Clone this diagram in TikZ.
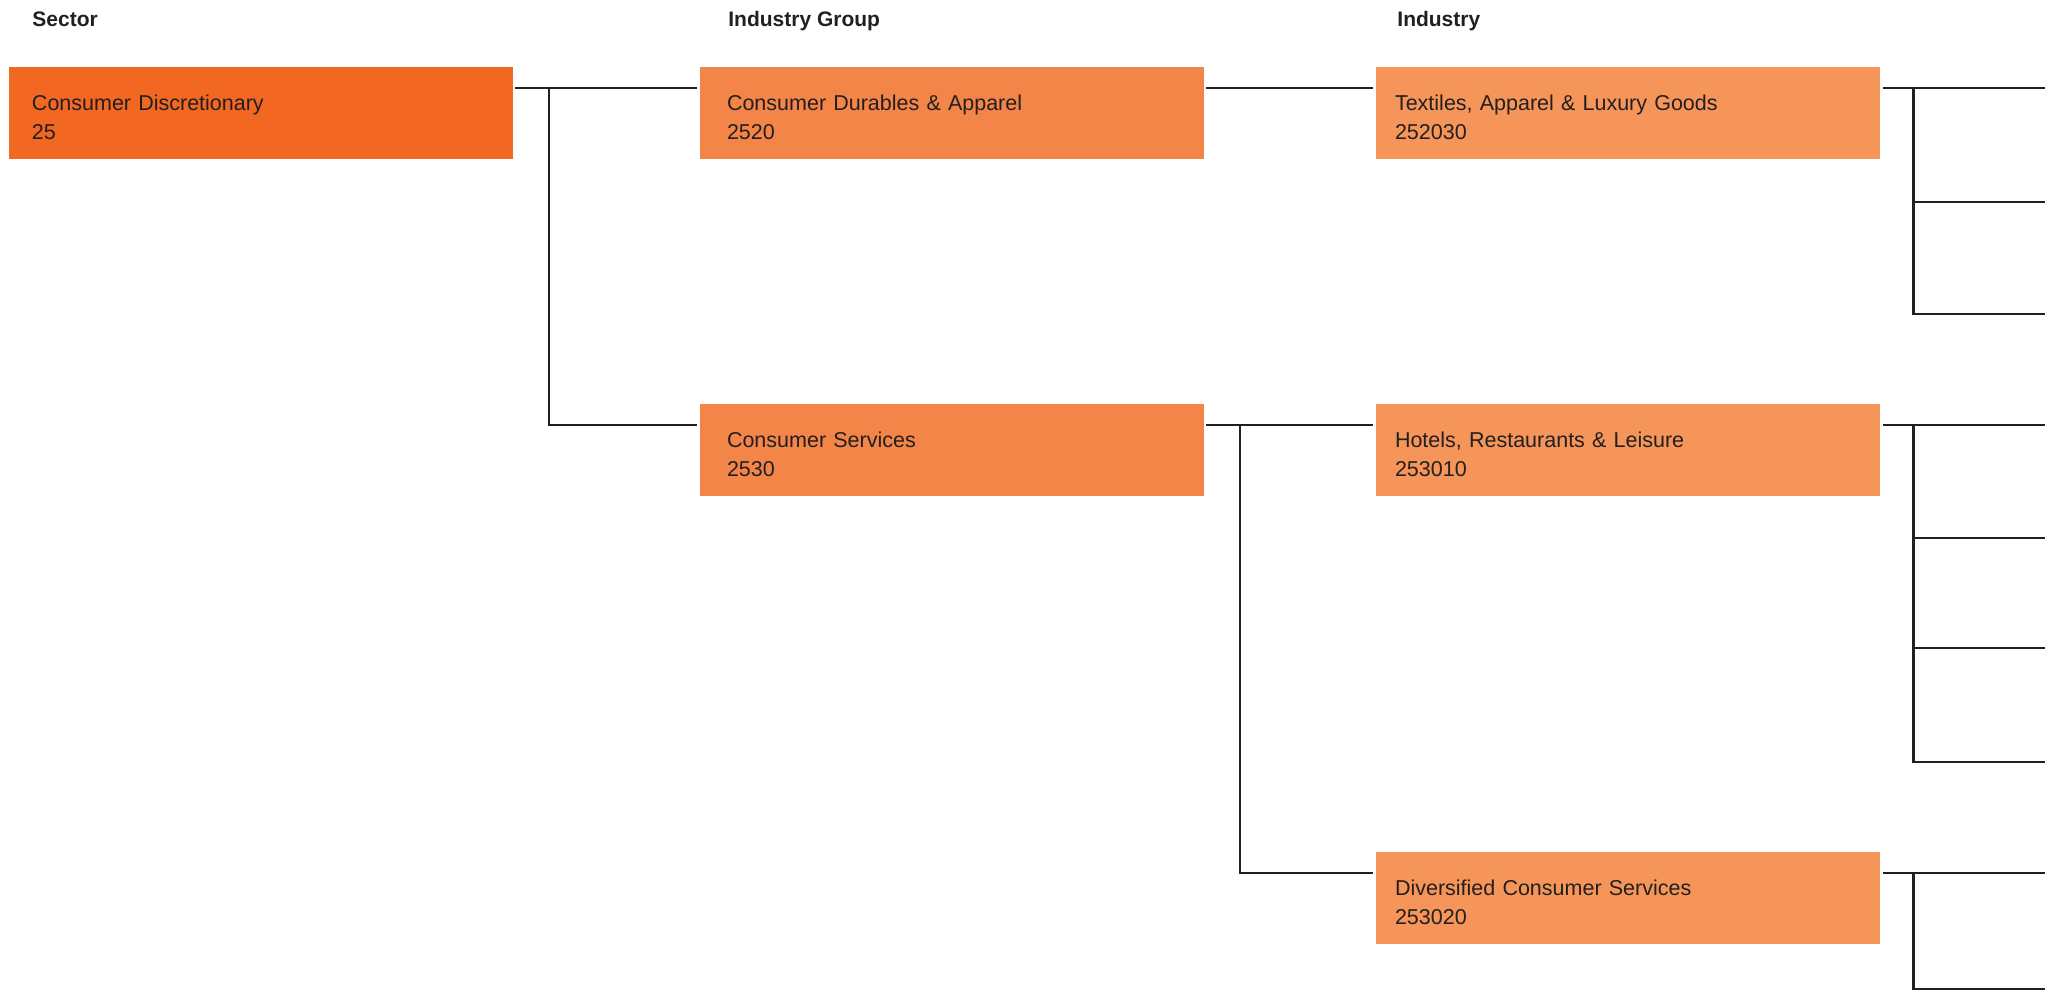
\documentclass[tikz,border=0pt]{standalone}
\usepackage{fontspec}
\setmainfont{Liberation Sans}
\usetikzlibrary{positioning}
\definecolor{sector}{RGB}{242,103,34}
\definecolor{group}{RGB}{244,133,73}
\definecolor{industry}{RGB}{246,149,90}
\definecolor{ink}{RGB}{35,31,32}

\begin{document}
\begin{tikzpicture}[x=0.5pt, y=-0.5pt, font=\fontsize{10.75}{14.5}\selectfont, text=ink,
  box/.style={inner ysep=0pt, outer sep=0pt, minimum height=46pt, align=left, text height=11.55pt, text depth=14.5pt},
  secbox/.style={box, fill=sector, inner xsep=11.5pt, text width=229pt},
  grpbox/.style={box, fill=group, inner xsep=13.5pt, text width=225pt},
  indbox/.style={box, fill=industry, inner xsep=9.5pt, text width=233pt},
  head/.style={anchor=base west, inner sep=0pt, font=\fontsize{10.5}{12}\selectfont\bfseries},
  link/.style={draw=ink, line width=1.2pt}]
\useasboundingbox (0,0) rectangle (2045,990);

% column heads
\node(hsec)[head] at (32,27){Sector};
\node(hgrp)[head] at (728,27){Industry Group};
\node(hind)[head] at (1397,27){Industry};

% boxes
\node(sec)[secbox] at (261,113){Consumer Discretionary\\25};
\node(grp1)[grpbox,right=93.5pt of sec]{Consumer Durables \& Apparel\\2520};
\node(grp2)[grpbox,below=122.5pt of grp1]{Consumer Services\\2530};
\node(ind1)[indbox,right=86pt of grp1]{Textiles, Apparel \& Luxury Goods\\252030};
\node(ind2)[indbox,right=86pt of grp2]{Hotels, Restaurants \& Leisure\\253010};
\node(ind3)[indbox,below=178pt of ind2]{Diversified Consumer Services\\253020};

% sub-industry ends, off the right edge
\foreach \y [count=\i] in {88,202,314,425,538,648,762,873,989}
  \coordinate (sub\i) at (2045,\y);

% Links
\draw[link] ([xshift=1pt,yshift=12.5pt]sec.east) -- ([xshift=-1.5pt,yshift=12.5pt]grp1.west);
\draw[link] ([xshift=18pt,yshift=12.5pt]sec.east) |- ([xshift=-1.5pt,yshift=12.5pt]grp2.west);
\draw[link] ([xshift=1pt,yshift=12.5pt]grp1.east) -- ([xshift=-1.5pt,yshift=12.5pt]ind1.west);
\draw[link] ([xshift=1pt,yshift=12.5pt]grp2.east) -- ([xshift=-1.5pt,yshift=12.5pt]ind2.west);
\draw[link] ([xshift=18pt,yshift=12.5pt]grp2.east) |- ([xshift=-1.5pt,yshift=12.5pt]ind3.west);

\draw[link] ([xshift=1.5pt,yshift=12.5pt]ind1.east) -- (sub1);
\draw[link] ([xshift=1.5pt,yshift=12.5pt]ind2.east) -- (sub4);
\draw[link] ([xshift=1.5pt,yshift=12.5pt]ind3.east) -- (sub8);
\foreach \i in {2,3}
  \draw[link] ([xshift=16.75pt,yshift=12.5pt]ind1.east) |- (sub\i);
\foreach \i in {5,6,7}
  \draw[link] ([xshift=16.75pt,yshift=12.5pt]ind2.east) |- (sub\i);
\draw[link] ([xshift=16.75pt,yshift=12.5pt]ind3.east) |- (sub9);
\end{tikzpicture}
\end{document}
